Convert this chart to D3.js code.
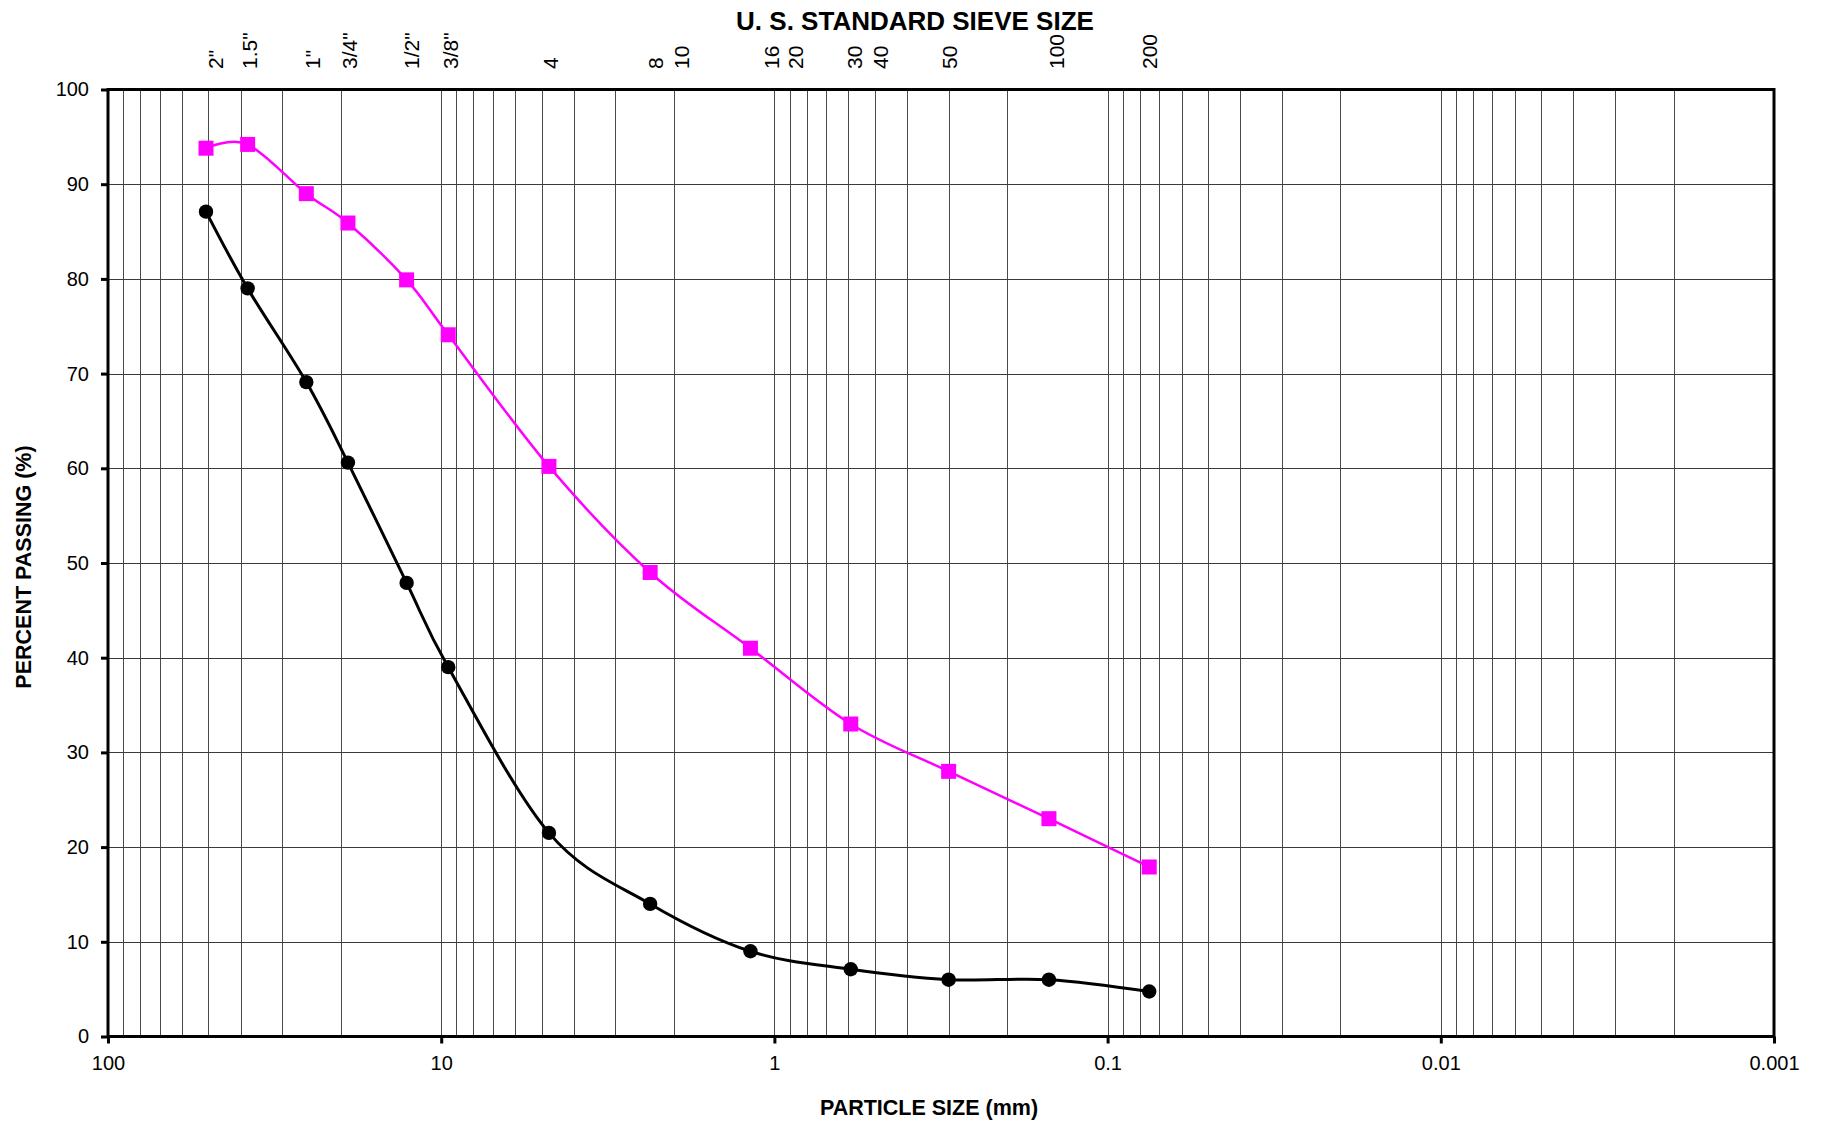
<!DOCTYPE html>
<html>
<head>
<meta charset="utf-8">
<script src="https://cdn.jsdelivr.net/npm/d3@7"></script>
<style>
  body { margin: 0; background: #fff; }
  text { font-family: Arial, "Liberation Sans", sans-serif; fill: #000; }
</style>
</head>
<body>
<div id="chart"></div>
<script>
// particle sizes of the sieves (mm)
var sizes = [50.8, 38.1, 25.4, 19.05, 12.7, 9.525, 4.75, 2.36, 1.18, 0.59, 0.3, 0.15, 0.075];
// percent passing, two samples
var upperPassing = [93.8, 94.2, 89.0, 85.9, 79.9, 74.1, 60.2, 49.0, 41.0, 33.0, 28.0, 23.0, 17.9];
var lowerPassing = [87.1, 79.0, 69.1, 60.6, 47.9, 39.0, 21.5, 14.0, 9.0, 7.1, 6.0, 6.0, 4.75];

// sieve names on the top and where they sit (mm)
var sieveLabels = ['2"', '1.5"', '1"', '3/4"', '1/2"', '3/8"', '4', '8', '10', '16', '20', '30', '40', '50', '100', '200'];
var sieveLabelMM = [47.7, 37.5, 24.4, 18.8, 12.3, 9.35, 4.69, 2.27, 1.90, 1.02, 0.863, 0.574, 0.480, 0.298, 0.142, 0.0748];

var xTicks = [100, 10, 1, 0.1, 0.01, 0.001];
var xTickLabels = ["100", "10", "1", "0.1", "0.01", "0.001"];
var yTicks = [0, 10, 20, 30, 40, 50, 60, 70, 80, 90, 100];

function base(){
    var W = 1822, H = 1122;
    var left = 108, right = 1774, top = 89.5, bottom = 1036.5;

    var svg = d3.select("#chart").append("svg")
        .attr("width", W)
        .attr("height", H);

    var xScale = d3.scaleLog().domain([100, 0.001]).range([left, right]);
    var yScale = d3.scaleLinear().domain([0, 100]).range([bottom, top]);

    // minor + major vertical grid
    var vlines = [];
    for (var e = -3; e < 2; e++) {
        for (var k = 1; k < 10; k++) vlines.push(k * Math.pow(10, e));
    }
    svg.append("g").selectAll("line")
        .data(vlines)
        .enter().append("line")
        .attr("x1", function(d){ return Math.round(xScale(d)) + 0.5; })
        .attr("x2", function(d){ return Math.round(xScale(d)) + 0.5; })
        .attr("y1", top).attr("y2", bottom)
        .attr("stroke", "#4a4a4a").attr("stroke-width", 1);

    svg.append("g").selectAll("line")
        .data(yTicks)
        .enter().append("line")
        .attr("x1", left).attr("x2", right)
        .attr("y1", function(d){ return Math.round(yScale(d)) + 0.5; })
        .attr("y2", function(d){ return Math.round(yScale(d)) + 0.5; })
        .attr("stroke", "#3a3a3a").attr("stroke-width", 1);

    // axes
    var yAxis = d3.axisLeft(yScale).tickValues(yTicks).tickSize(7).tickPadding(12);
    var gy = svg.append("g").attr("transform", "translate(" + left + ",0)").call(yAxis);
    gy.select(".domain").remove();
    gy.selectAll(".tick line").attr("stroke", "#000").attr("stroke-width", 3);
    gy.selectAll("text").style("font-size", "20px").attr("fill", "#000");

    var xAxis = d3.axisBottom(xScale).tickValues(xTicks)
        .tickFormat(function(d, i){ return xTickLabels[i]; })
        .tickSize(7).tickPadding(12);
    var gx = svg.append("g").attr("transform", "translate(0," + bottom + ")").call(xAxis);
    gx.select(".domain").remove();
    gx.selectAll(".tick line").attr("stroke", "#000").attr("stroke-width", 3);
    gx.selectAll("text").style("font-size", "20px").attr("fill", "#000");

    // frame
    svg.append("rect")
        .attr("x", left).attr("y", top)
        .attr("width", right - left).attr("height", bottom - top)
        .attr("fill", "none").attr("stroke", "#000").attr("stroke-width", 3);

    // sieve names
    svg.append("g").selectAll("text")
        .data(sieveLabels)
        .enter().append("text")
        .attr("transform", function(d, i){
            return "translate(" + xScale(sieveLabelMM[i]) + ",69) rotate(-90)";
        })
        .attr("dy", "0.36em")
        .style("font-size", "21px")
        .text(function(d){ return d; });

    // curves
    var line = d3.line()
        .x(function(d){ return xScale(d[0]); })
        .y(function(d){ return yScale(d[1]); })
        .curve(d3.curveCatmullRom.alpha(0));

    var upper = sizes.map(function(s, i){ return [s, upperPassing[i]]; });
    var lower = sizes.map(function(s, i){ return [s, lowerPassing[i]]; });

    svg.append("path").datum(upper)
        .attr("d", line).attr("fill", "none")
        .attr("stroke", "#FF00FF").attr("stroke-width", 2.5);
    svg.append("path").datum(lower)
        .attr("d", line).attr("fill", "none")
        .attr("stroke", "#000").attr("stroke-width", 3);

    svg.append("g").selectAll("rect")
        .data(upper)
        .enter().append("rect")
        .attr("x", function(d){ return xScale(d[0]) - 7.5; })
        .attr("y", function(d){ return yScale(d[1]) - 7.5; })
        .attr("width", 15).attr("height", 15)
        .attr("fill", "#FF00FF");

    svg.append("g").selectAll("circle")
        .data(lower)
        .enter().append("circle")
        .attr("cx", function(d){ return xScale(d[0]); })
        .attr("cy", function(d){ return yScale(d[1]); })
        .attr("r", 7.2)
        .attr("fill", "#000");

    // titles
    svg.append("text")
        .attr("x", 915).attr("y", 30)
        .attr("text-anchor", "middle")
        .style("font-size", "26px").style("font-weight", "bold")
        .text("U. S. STANDARD SIEVE SIZE");

    svg.append("text")
        .attr("x", 929).attr("y", 1115)
        .attr("text-anchor", "middle")
        .style("font-size", "21.5px").style("font-weight", "bold")
        .text("PARTICLE SIZE (mm)");

    svg.append("text")
        .attr("transform", "translate(23,567) rotate(-90)")
        .attr("text-anchor", "middle")
        .attr("dy", "0.36em")
        .style("font-size", "21.5px").style("font-weight", "bold")
        .text("PERCENT PASSING (%)");
}

window.onload = base;
</script>
</body>
</html>
